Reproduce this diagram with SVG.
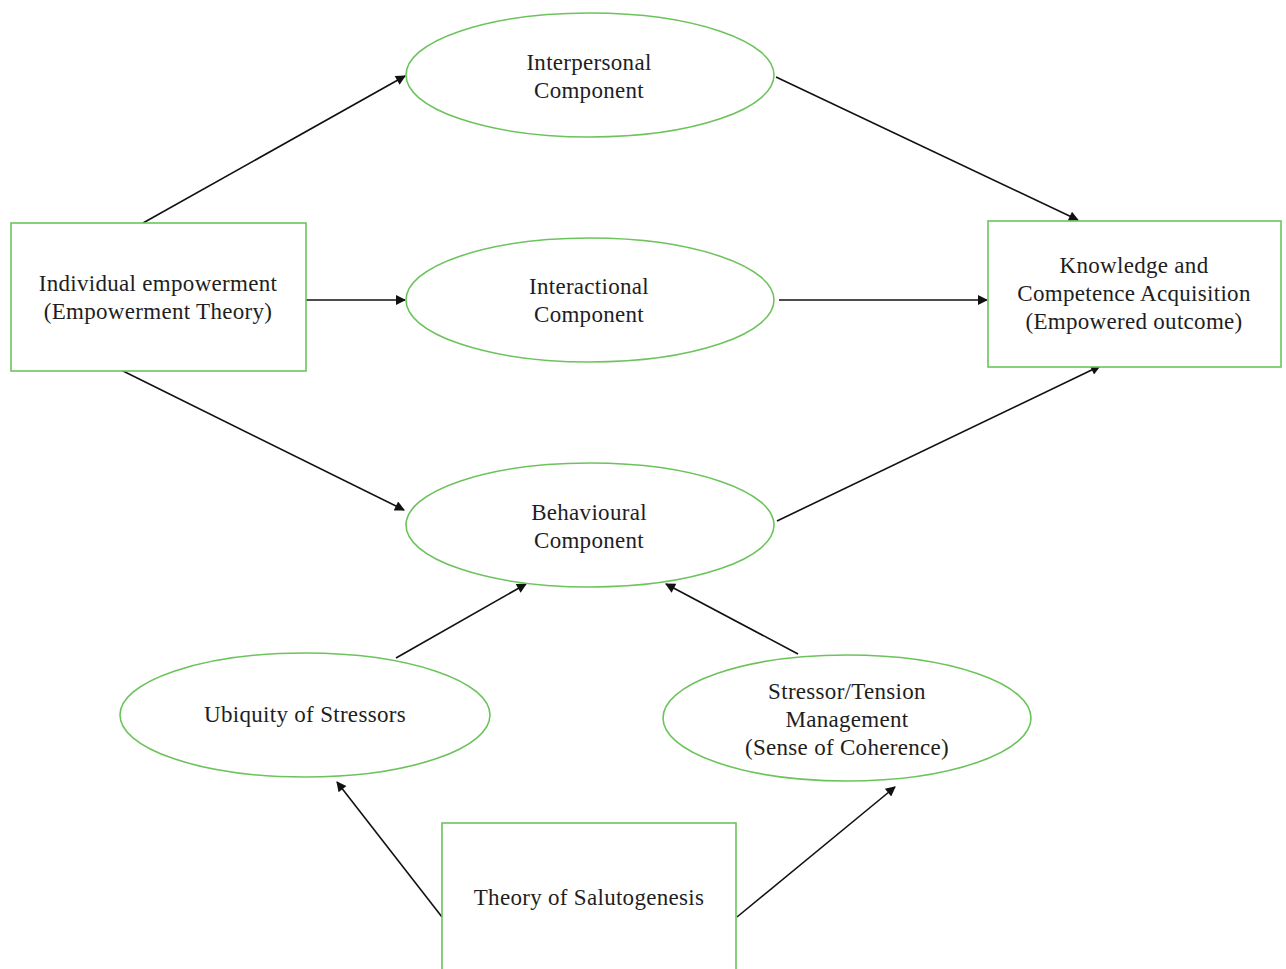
<svg xmlns="http://www.w3.org/2000/svg" width="1286" height="969" viewBox="0 0 1286 969">
<defs>
<style>
.n{fill:#fff;stroke:#6cc35c;stroke-width:1.6}
.t{font-family:"Liberation Serif","Times New Roman",serif;font-size:23px;letter-spacing:0.3px;fill:#1e1e1e;text-anchor:middle}
.c{stroke:#111;stroke-width:1.6;fill:none;marker-end:url(#ah)}
</style>
<marker id="ah" viewBox="0 0 10 10" refX="9" refY="5" markerWidth="12" markerHeight="10" markerUnits="userSpaceOnUse" orient="auto">
<path d="M0,0L10,5L0,10z" fill="#111"/>
</marker>
</defs>
<rect width="1286" height="969" fill="#fff"/>
<g id="connectors">
<line class="c" x1="143" y1="223" x2="405" y2="76"/>
<line class="c" x1="306" y1="300" x2="405" y2="300"/>
<line class="c" x1="121" y1="370" x2="404" y2="510"/>
<line class="c" x1="776" y1="77" x2="1078" y2="220"/>
<line class="c" x1="779" y1="300" x2="987" y2="300"/>
<line class="c" x1="777" y1="521" x2="1100" y2="366"/>
<line class="c" x1="396" y1="658" x2="526" y2="584"/>
<line class="c" x1="798" y1="654" x2="666" y2="584"/>
<line class="c" x1="442" y1="917" x2="337" y2="782"/>
<line class="c" x1="737" y1="917" x2="895" y2="787"/>
</g>
<g id="individual">
<rect class="n" x="11" y="223" width="295" height="148"/>
<text class="t" x="158" y="291">Individual empowerment</text>
<text class="t" x="158" y="319">(Empowerment Theory)</text>
</g>
<g id="interpersonal">
<ellipse class="n" cx="590" cy="75" rx="184" ry="62"/>
<text class="t" x="589" y="70">Interpersonal</text>
<text class="t" x="589" y="98">Component</text>
</g>
<g id="interactional">
<ellipse class="n" cx="590" cy="300" rx="184" ry="62"/>
<text class="t" x="589" y="294">Interactional</text>
<text class="t" x="589" y="322">Component</text>
</g>
<g id="behavioural">
<ellipse class="n" cx="590" cy="525" rx="184" ry="62"/>
<text class="t" x="589" y="520">Behavioural</text>
<text class="t" x="589" y="548">Component</text>
</g>
<g id="knowledge">
<rect class="n" x="988" y="221" width="293" height="146"/>
<text class="t" x="1134" y="273">Knowledge and</text>
<text class="t" x="1134" y="301">Competence Acquisition</text>
<text class="t" x="1134" y="329">(Empowered outcome)</text>
</g>
<g id="ubiquity">
<ellipse class="n" cx="305" cy="715" rx="185" ry="62"/>
<text class="t" x="305" y="722">Ubiquity of Stressors</text>
</g>
<g id="stressor">
<ellipse class="n" cx="847" cy="718" rx="184" ry="63"/>
<text class="t" x="847" y="699">Stressor/Tension</text>
<text class="t" x="847" y="727">Management</text>
<text class="t" x="847" y="755">(Sense of Coherence)</text>
</g>
<g id="salutogenesis">
<rect class="n" x="442" y="823" width="294" height="160"/>
<text class="t" x="589" y="905">Theory of Salutogenesis</text>
</g>
</svg>
